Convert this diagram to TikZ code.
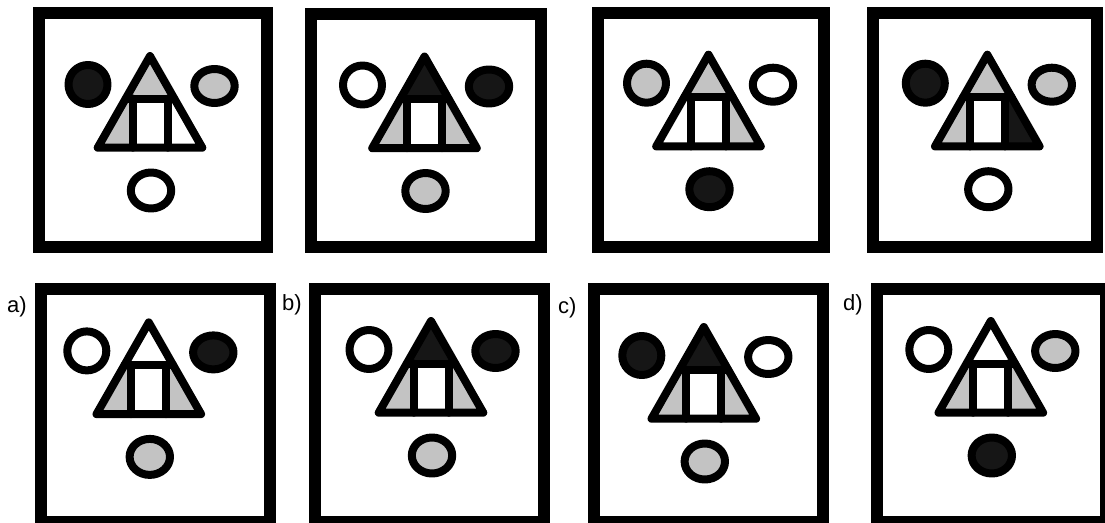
\documentclass[tikz,border=0pt]{standalone}
\usepackage{fontspec}
\setmainfont{Liberation Sans}
\definecolor{shadegray}{RGB}{195,195,195}
\definecolor{shadedark}{RGB}{22,22,22}
\tikzset{
  frameline/.style={draw=black, line width=12pt, line join=miter},
  shapeline/.style={draw=black, line width=8pt, line join=round, line cap=round},
  lab/.style={anchor=base west, inner sep=0pt, font=\fontsize{22}{26}\selectfont, text=black},
}
% #1 ax, #2 ay, #3 top, #4 left, #5 right, #6 left circle, #7 right ellipse, #8 bottom ellipse
\newcommand\puzzlepanel[8]{%
\begin{scope}[shift={(#1,#2)}]
  \fill[#3] (0,0) -- (-24.24,42.5) -- (24.24,42.5) -- cycle;
  \fill[#4] (-24.24,42.5) -- (-17.5,42.5) -- (-17.5,91.7) -- (-52.3,91.7) -- cycle;
  \fill[#5] (17.5,42.5) -- (24.24,42.5) -- (52.3,91.7) -- (17.5,91.7) -- cycle;
  \fill[white] (-17.5,42.5) rectangle (17.5,91.7);
  \draw[shapeline] (0,0) -- (-52.3,91.7) -- (52.3,91.7) -- cycle;
  \draw[shapeline] (-24.24,42.5) -- (24.24,42.5);
  \draw[shapeline] (-17.5,42.5) -- (-17.5,91.7);
  \draw[shapeline] (17.5,42.5) -- (17.5,91.7);
  \draw[shapeline, fill=#6] (-62,28.5) circle[radius=19.5];
  \draw[shapeline, fill=#7] (64.5,30) ellipse[x radius=20.2, y radius=17];
  \draw[shapeline, fill=#8] (1,134.5) ellipse[x radius=20.2, y radius=18];
\end{scope}}
\begin{document}
\begin{tikzpicture}[x=1pt, y=-1pt]
  \useasboundingbox (0,0) rectangle (1105,522);
  \clip (0,0) rectangle (1105,522);
  \fill[white] (0,0) rectangle (1105,522);
  % frames, top row
  \draw[frameline] (39,13) rectangle (267,247);
  \draw[frameline] (311,14) rectangle (541,247);
  \draw[frameline] (598,13) rectangle (824,247);
  \draw[frameline] (873,13) rectangle (1097,247);
  % frames, bottom row
  \draw[frameline] (41,289) rectangle (270,522);
  \draw[frameline] (315,289) rectangle (543.5,522);
  \draw[frameline] (594,289) rectangle (823,522);
  \draw[frameline] (877,289) rectangle (1106,522);
  % panel contents, top row
  \puzzlepanel{150}{56}{shadegray}{shadegray}{white}{shadedark}{shadegray}{white}
  \puzzlepanel{424.5}{56.5}{shadedark}{shadegray}{shadegray}{white}{shadedark}{shadegray}
  \puzzlepanel{708.5}{54.7}{shadegray}{white}{shadegray}{shadegray}{white}{shadedark}
  \puzzlepanel{987.3}{54.7}{shadegray}{shadegray}{shadedark}{shadedark}{shadegray}{white}
  % panel contents, bottom row
  \puzzlepanel{148.8}{322.4}{white}{shadegray}{shadegray}{white}{shadedark}{shadegray}
  \puzzlepanel{431}{321}{shadedark}{shadegray}{shadegray}{white}{shadedark}{shadegray}
  \puzzlepanel{703.8}{327}{shadedark}{shadegray}{shadegray}{shadedark}{white}{shadegray}
  \puzzlepanel{990.8}{321}{white}{shadegray}{shadegray}{white}{shadegray}{shadedark}
  % labels
  \node[lab] (la) at (7,312) {a)};
  \node[lab] (lb) at (282,310) {b)};
  \node[lab] (lc) at (558,313) {c)};
  \node[lab] (ld) at (843,310) {d)};
\end{tikzpicture}
\end{document}
